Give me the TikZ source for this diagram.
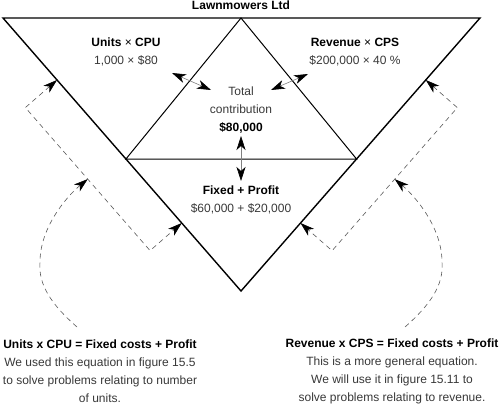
\documentclass[tikz,border=0pt]{standalone}
\usepackage{fontspec}
\setmainfont{Liberation Sans}
\usepackage{tikz}
\usetikzlibrary{arrows.meta,calc,positioning}
\usepackage{xcolor}
\definecolor{txtgrey}{gray}{0.22}
\definecolor{dashgrey}{gray}{0.35}
\tikzset{
txt/.style = {align=center, inner sep=0pt, text centered,
font=\fontsize{12}{18}\selectfont, text=txtgrey},% texte normal
txt_b/.style = {txt, font=\fontsize{12}{18}\selectfont\bfseries, text=black},% texte gras
tri_big/.style = {draw=black, line width=1.4pt, line join=miter},% grand triangle
tri_in/.style = {draw=black, line width=1pt},% triangle du milieu
dbl/.style = {{Stealth[length=14pt, width=9pt, inset=4pt, color=black]}-{Stealth[length=14pt, width=9pt, inset=4pt, color=black]}, draw=gray, line width=0.6pt},% double fleche
dsh/.style = {draw=dashgrey, line width=0.6pt, dash pattern=on 5pt off 4pt},% tirets
dsh_a/.style = {dsh, -{Stealth[length=14pt, width=9pt, inset=4pt, color=black]}},
dsh_aa/.style = {dsh, {Stealth[length=14pt, width=9pt, inset=4pt, color=black]}-{Stealth[length=14pt, width=9pt, inset=4pt, color=black]}}
}
\begin{document}
\begin{tikzpicture}[x=1pt, y=-1pt]
  \useasboundingbox (0,0) rectangle (500,404);
  % triangles
  \coordinate (tl) at (3,18);
  \coordinate (tr) at (480,18);
  \coordinate (tm) at (241,18);
  \coordinate (bot) at (241,291);
  \coordinate (il) at ($(tl)!0.5165!(bot)$);
  \coordinate (ir) at ($(tr)!0.5165!(bot)$);
  \draw [tri_big] (tl) -- (tr) -- (bot) -- cycle;
  \draw [tri_in] (tm) -- (il) -- (ir) -- cycle;
  % textes
  \node [txt_b] (title) at (241,5.5) {Lawnmowers Ltd};
  \node [txt] (units) at (126,52) {\textbf{\color{black}Units \textmd{×} CPU}\\1,000 × \$80};
  \node [txt] (rev) at (355,52) {\textbf{\color{black}Revenue \textmd{×} CPS}\\\$200,000 × 40 \%};
  \node [txt] (total) at (241,110.5) {Total\\contribution\\\textbf{\color{black}\$80,000}};
  \node [txt] (fixed) at (241,200) {\textbf{\color{black}Fixed + Profit}\\\$60,000 + \$20,000};
  \node [txt] (note_l) at (100,371) {\textbf{\color{black}Units x CPU = Fixed costs + Profit}\\We used this equation in figure 15.5\\to solve problems relating to number\\of units.};
  \node [txt] (note_r) at (392,371) {\textbf{\color{black}Revenue x CPS = Fixed costs + Profit}\\This is a more general equation.\\We will use it in figure 15.11 to\\solve problems relating to revenue.};
  % doubles fleches
  \coordinate (ua) at (172,73);
  \coordinate (ub) at (211,90);
  \coordinate (ra) at (308,74);
  \coordinate (rb) at (271,90);
  \coordinate (fa) at (241,136);
  \coordinate (fb) at (241,181);
  \draw [dbl] (ua) -- (ub);
  \draw [dbl] (ra) -- (rb);
  \draw [dbl] (fa) -- (fb);
  % crochets a gauche
  \coordinate (le1) at ($(tl)!0.227!(bot)$);
  \coordinate (le2) at ($(tl)!0.751!(bot)$);
  \coordinate (lc1) at ($(le1)!42pt!-90:(bot)$);
  \coordinate (lc2) at ($(le2)!42pt!-90:(bot)$);
  \coordinate (lm) at ($(lc1)!0.5!(lc2)$);
  \coordinate (ls) at (77,327);
  \draw [dsh_aa] (le1) -- (lc1) -- (lc2) -- (le2);
  \draw [dsh_a] (ls) .. controls (52,305) and (38,285) .. (40,262)
    .. controls (40,228) and (66,197) .. (lm);
  % crochets a droite
  \coordinate (re1) at ($(tr)!0.227!(bot)$);
  \coordinate (re2) at ($(tr)!0.751!(bot)$);
  \coordinate (rc1) at ($(re1)!42pt!90:(bot)$);
  \coordinate (rc2) at ($(re2)!42pt!90:(bot)$);
  \coordinate (rm) at ($(rc1)!0.5!(rc2)$);
  \coordinate (rs) at (405,327);
  \draw [dsh_aa] (re1) -- (rc1) -- (rc2) -- (re2);
  \draw [dsh_a] (rs) .. controls (430,305) and (444,285) .. (442,262)
    .. controls (442,228) and (416,197) .. (rm);
\end{tikzpicture}
\end{document}
